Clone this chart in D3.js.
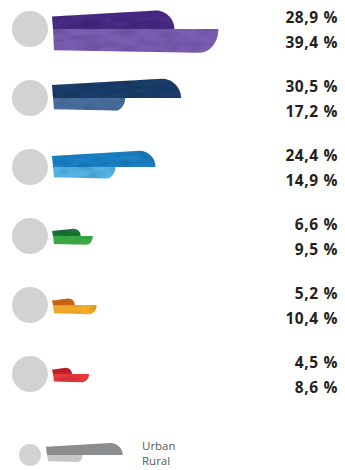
<!DOCTYPE html>
<html>
<head>
<meta charset="utf-8">
<script src="https://cdn.jsdelivr.net/npm/d3@7"></script>
<style>
  html, body { margin: 0; padding: 0; background: #fff; }
  svg { display: block; }
</style>
</head>
<body>
<div id="chart"></div>
<script>
// Shares by group, urban vs rural (percent)
const groups = ["g1", "g2", "g3", "g4", "g5", "g6"];
const urbanValues = [28.9, 30.5, 24.4, 6.6, 5.2, 4.5];
const ruralValues = [39.4, 17.2, 14.9, 9.5, 10.4, 8.6];
const urbanColors = ["#4a2a84", "#1b3c69", "#1f80c3", "#1b7534", "#cf6a1f", "#c4202c"];
const ruralColors = ["#7a5cb1", "#4a6e9e", "#55b3e4", "#3cac47", "#f4ab2a", "#e6393e"];
const legendLabels = ["Urban", "Rural"];
const legendSample = [18, 8.5];
const legendColors = ["#8b8c8e", "#c6c7c9"];

const W = 345, H = 470;
const svg = d3.select("#chart").append("svg").attr("width", W).attr("height", H);

// subtle watercolour grain on the strokes
const defs = svg.append("defs");
const f = defs.append("filter").attr("id", "grain")
  .attr("x", "0").attr("y", "0").attr("width", "1").attr("height", "1");
f.append("feTurbulence").attr("type", "fractalNoise")
  .attr("baseFrequency", "0.05 0.14").attr("numOctaves", 3).attr("seed", 4).attr("result", "n");
f.append("feColorMatrix").attr("in", "n").attr("type", "matrix")
  .attr("values", "0 0 0 0 0  0 0 0 0 0  0 0 0 0 0  0.6 0 0 0 -0.24").attr("result", "shade");
f.append("feComposite").attr("in", "shade").attr("in2", "SourceGraphic").attr("operator", "in").attr("result", "shadeIn");
const fm = f.append("feMerge");
fm.append("feMergeNode").attr("in", "SourceGraphic");
fm.append("feMergeNode").attr("in", "shadeIn");

const x0 = 53;
const len = d3.scaleLinear().domain([0, 40]).range([0, 168]);
const thick = d3.scaleLinear().domain([0, 40]).range([4, 24]);
const y = d3.scalePoint().domain(groups).range([29, 374]);

// upper stroke: sits above the centre line, rounded top-right corner
function upperPath(xs, yc, length, t) {
  const x1 = xs + length;
  const tl = t * 0.68;
  const rx = Math.min(t, length * 0.5);
  return `M${xs},${yc} L${xs - 1},${yc - tl} L${x1 - rx},${yc - t} A${rx},${t} 0 0 1 ${x1},${yc} Z`;
}
// lower stroke: hangs under the centre line, rounded bottom-right corner
function lowerPath(xs, yc, length, t) {
  const x1 = xs + length;
  const tl = t * 0.9;
  const rx = Math.min(t * 0.8, length * 0.5);
  return `M${xs},${yc} L${x1},${yc} A${rx},${t} 0 0 1 ${x1 - rx},${yc + t} L${xs + 1},${yc + tl} Z`;
}

const fmt = v => d3.format(".1f")(v).replace(".", ",") + " %";

const rows = svg.selectAll("g.row").data(groups).join("g").attr("class", "row");

rows.append("circle")
  .attr("cx", 30).attr("cy", d => y(d)).attr("r", 18).attr("fill", "#d1d2d4");

rows.append("path")
  .attr("d", (d, i) => lowerPath(x0, y(d), len(ruralValues[i]), thick(ruralValues[i])))
  .attr("fill", (d, i) => ruralColors[i]).attr("filter", "url(#grain)");

rows.append("path")
  .attr("d", (d, i) => upperPath(x0, y(d), len(urbanValues[i]), thick(urbanValues[i])))
  .attr("fill", (d, i) => urbanColors[i]).attr("filter", "url(#grain)");

const labelStyle = sel => sel
  .attr("x", 338).attr("text-anchor", "end")
  .attr("font-family", "'Open Sans', sans-serif").attr("font-weight", 700)
  .attr("font-size", 15.5).attr("letter-spacing", 0.6).attr("fill", "#231f20");

rows.append("text").call(labelStyle)
  .attr("y", d => y(d) - 6).text((d, i) => fmt(urbanValues[i]));
rows.append("text").call(labelStyle)
  .attr("y", d => y(d) + 19).text((d, i) => fmt(ruralValues[i]));

// legend
const ly = 455, lx = 47;
const lg = svg.append("g");
lg.append("circle").attr("cx", 30).attr("cy", ly).attr("r", 11).attr("fill", "#d1d2d4");
lg.append("path").attr("d", lowerPath(lx, ly, len(legendSample[1]), 7)).attr("fill", legendColors[1]);
lg.append("path").attr("d", upperPath(lx, ly, len(legendSample[0]), 12)).attr("fill", legendColors[0]);
lg.selectAll("text").data(legendLabels).join("text")
  .attr("x", 142).attr("y", (d, i) => 449.5 + i * 15.5)
  .attr("font-family", "'Open Sans', sans-serif").attr("font-size", 11.5)
  .attr("fill", "#58595b").text(d => d);
</script>
</body>
</html>
